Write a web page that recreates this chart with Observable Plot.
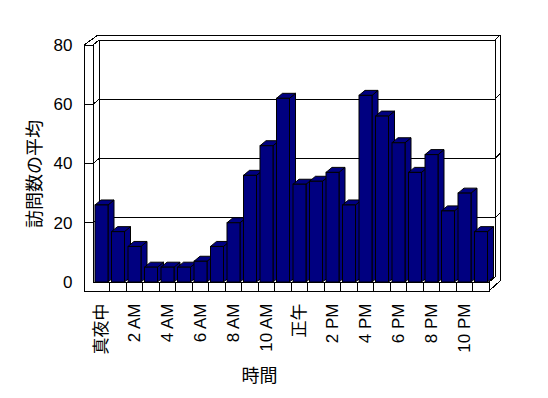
<!DOCTYPE html>
<html>
<head>
<meta charset="utf-8">
<script src="https://cdn.jsdelivr.net/npm/d3@7"></script>
<script src="https://cdn.jsdelivr.net/npm/@observablehq/plot@0.6"></script>
<style>
  html, body { margin: 0; padding: 0; background: #fff; }
  svg text { -webkit-font-smoothing: antialiased; }
</style>
</head>
<body>
<div id="chart"></div>
<script>
// ---- data ----
const hours = [0, 1, 2, 3, 4, 5, 6, 7, 8, 9, 10, 11, 12, 13, 14, 15, 16, 17, 18, 19, 20, 21, 22, 23];
const visits = [26, 17, 12, 5, 5, 5, 7, 12, 20, 36, 46, 62, 33, 34, 37, 26, 63, 56, 47, 37, 43, 24, 30, 17];
const tickHours = [0, 2, 4, 6, 8, 10, 12, 14, 16, 18, 20, 22];
const tickLabels = ["真夜中", "2 AM", "4 AM", "6 AM", "8 AM", "10 AM", "正午", "2 PM", "4 PM", "6 PM", "8 PM", "10 PM"];
const yTicks = [0, 20, 40, 60, 80];
const yLabel = "訪問数の平均";
const xLabel = "時間";

const table = hours.map((h, i) => ({hour: h, visits: visits[i]}));

// ---- 3D styling ----
const NAVY = "#000080";
const DX = 6, DY = -5;     // depth of bars / floor / back wall front face
const WX = 11, WY = -10;   // back of the wall slabs
const WALL = 9;            // thickness of the left wall and floor front faces

function path(g, pts, fill) {
  return g.append("path")
    .attr("d", "M" + pts.map(p => p[0] + "," + p[1]).join("L") + (fill ? "Z" : ""))
    .attr("fill", fill || "none");
}

// frame: walls, floor, gridlines (all positioned from the Plot scales)
function frame(index, {x, y}, values, dim) {
  const g = d3.create("svg:g")
    .attr("stroke", "black")
    .attr("stroke-width", 1)
    .attr("shape-rendering", "crispEdges");
  const xL = dim.marginLeft, xR = dim.width - dim.marginRight;
  const yB = y(0), yT = y(yTicks[yTicks.length - 1]);
  const xO = xL - WALL, yF = yB + WALL;
  // back wall front face
  path(g, [[xL + DX, yB + DY], [xL + DX, yT + DY], [xR + DX, yT + DY], [xR + DX, yB + DY]]);
  // back wall top/back edges
  path(g, [[xO + 14, yT + WY], [xR + WX, yT + WY], [xR + WX, yF + WY]]);
  path(g, [[xR + DX, yT + DY], [xR + WX, yT + WY]]);
  // left wall
  path(g, [[xO, yF], [xO, yT], [xL, yT], [xL, yB]]);
  path(g, [[xO, yT], [xO + 14, yT + WY]]);
  path(g, [[xL, yT], [xL + DX, yT + DY]]);
  // gridlines running across left wall and back wall
  for (const v of yTicks.slice(1)) {
    const yv = y(v);
    path(g, [[xO, yv], [xL, yv], [xL + DX, yv + DY], [xR + DX, yv + DY], [xR + WX, yv + WY]]);
  }
  // floor
  path(g, [[xO, yF], [xR, yF], [xR, yB], [xL, yB]]);
  path(g, [[xR, yF], [xR + WX, yF + WY]]);
  path(g, [[xR, yB], [xR + DX, yB + DY]]);
  path(g, [[xL + DX, yB + DY], [xR + DX, yB + DY]]);
  for (const h of hours.slice(1)) {
    path(g, [[x(h), yB], [x(h), yF]]);
  }
  return g.node();
}

// sides and tops of the bars
function barFaces(index, {x, y}) {
  const g = d3.create("svg:g")
    .attr("stroke", "black")
    .attr("stroke-width", 1)
    .attr("stroke-linejoin", "miter");
  const bw = x.bandwidth();
  const y0 = y(0);
  table.forEach(d => {
    const xl = x(d.hour) + 2, xr = x(d.hour) + bw - 1.5, yv = y(d.visits);
    path(g, [[xr, yv], [xr + DX, yv + DY], [xr + DX, y0 + DY], [xr, y0]], NAVY);
    path(g, [[xl, yv], [xr, yv], [xr + DX, yv + DY], [xl + DX, yv + DY]], NAVY);
  });
  return g.node();
}

const FONT = "'Liberation Sans', Arial, 'Noto Sans CJK JP', sans-serif";

const chart = Plot.plot({
  width: 548,
  height: 398,
  marginLeft: 93,
  marginRight: 59,
  marginTop: 45,
  marginBottom: 116,
  style: {fontFamily: FONT, fontSize: "17px", background: "white", color: "black"},
  x: {type: "band", domain: hours, padding: 0, round: false},
  y: {domain: [0, 80]},
  marks: [
    frame,
    barFaces,
    Plot.barY(table, {x: "hour", y: "visits", fill: NAVY, stroke: "black", strokeWidth: 1, insetLeft: 2, insetRight: 1.5}),
    Plot.axisY(yTicks, {tickSize: 0, tickPadding: 21, fontSize: 17, label: null, fill: "black"}),
    Plot.axisX(tickHours, {
      tickFormat: h => tickLabels[tickHours.indexOf(h)],
      tickRotate: -90, tickSize: 0, tickPadding: 21, fontSize: 17, label: null, fill: "black"
    }),
    Plot.text([yLabel], {frameAnchor: "left", textAnchor: "middle", lineAnchor: "middle", rotate: -90, dx: -58, dy: 10, fontSize: 18, fill: "black", text: d => d}),
    Plot.text([xLabel], {frameAnchor: "bottom", textAnchor: "middle", lineAnchor: "middle", dx: -32, dy: 94, fontSize: 18, fill: "black", text: d => d})
  ]
});
document.getElementById("chart").appendChild(chart);
</script>
</body>
</html>
